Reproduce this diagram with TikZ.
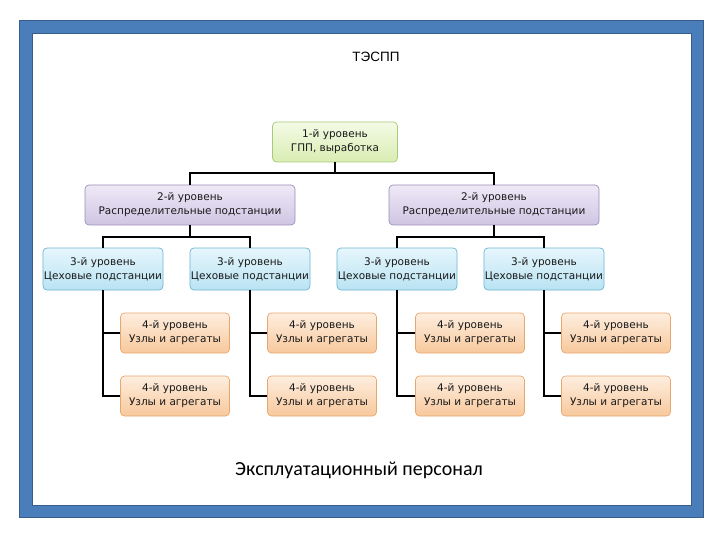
\documentclass[tikz,border=0pt]{standalone}
\usepackage{fontspec}
\setmainfont{DejaVu Sans}
\newfontfamily\capfont{Carlito}
\newfontfamily\ttlfont{Liberation Sans}

\definecolor{frameblue}{HTML}{4A7EBB}
\definecolor{framedark}{HTML}{385D8A}
\definecolor{greentop}{HTML}{F4FAE6}
\definecolor{greenbot}{HTML}{D9EDB2}
\definecolor{greenline}{HTML}{A9C97A}
\definecolor{lilactop}{HTML}{EEE9F6}
\definecolor{lilacbot}{HTML}{CFC5E4}
\definecolor{lilacline}{HTML}{9C8DBA}
\definecolor{bluetop}{HTML}{E6F6FC}
\definecolor{bluebot}{HTML}{B9E3F3}
\definecolor{blueline}{HTML}{6FB7D2}
\definecolor{peachtop}{HTML}{FDEEDF}
\definecolor{peachbot}{HTML}{F8C89C}
\definecolor{peachline}{HTML}{E9A770}

\begin{document}
\begin{tikzpicture}[x=1pt,y=-1pt,
  box/.style={rounded corners=4pt, line width=0.7pt, align=center,
    inner sep=1pt, text=black!90, font=\fontsize{10.5}{14}\selectfont},
  lvlone/.style={box, draw=greenline, top color=greentop, bottom color=greenbot,
    minimum width=125pt, minimum height=40pt},
  lvltwo/.style={box, draw=lilacline, top color=lilactop, bottom color=lilacbot,
    minimum width=210pt, minimum height=40pt},
  lvlthree/.style={box, draw=blueline, top color=bluetop, bottom color=bluebot,
    minimum width=120pt, minimum height=42pt},
  lvlfour/.style={box, draw=peachline, top color=peachtop, bottom color=peachbot,
    minimum width=109pt, minimum height=40pt},
  link/.style={draw=black, line width=1.8pt}]
\useasboundingbox (0,0) rectangle (720,540);

% frame
\fill[frameblue] (19,20) rectangle (703,517);
\fill[white] (32,33) rectangle (691,505);
\draw[framedark, line width=0.8pt] (19,20) rectangle (703,517);
\draw[framedark, line width=0.8pt] (32,33) rectangle (691,505);

\node[font=\ttlfont\fontsize{13.5}{15}\selectfont] (title) at (376,57) {ТЭСПП};

% levels
\node[lvlone] (l1) at (335,142) {1-й уровень\\ГПП, выработка};

\node[lvltwo] (l2a) at (190,205) {2-й уровень\\Распределительные подстанции};
\node[lvltwo] (l2b) at (494,205) {2-й уровень\\Распределительные подстанции};

\node[lvlthree] (l3a) at (103,269) {3-й уровень\\Цеховые подстанции};
\node[lvlthree] (l3b) at (250,269) {3-й уровень\\Цеховые подстанции};
\node[lvlthree] (l3c) at (397,269) {3-й уровень\\Цеховые подстанции};
\node[lvlthree] (l3d) at (544,269) {3-й уровень\\Цеховые подстанции};

\foreach \col/\x in {a/175,b/322,c/470,d/616}{
  \node[lvlfour] (l4\col1) at (\x,333) {4-й уровень\\Узлы и агрегаты};
  \node[lvlfour] (l4\col2) at (\x,396) {4-й уровень\\Узлы и агрегаты};
}

\node[font=\capfont\fontsize{20}{23}\selectfont] (staff) at (359,470) {Эксплуатационный персонал};

% connectors
\draw[link] (l1.south) -- ++(0,11) coordinate (j1);
\draw[link] (j1) -| (l2a.north);
\draw[link] (j1) -| (l2b.north);

\draw[link] (l2a.south) -- ++(0,12) coordinate (j2a);
\draw[link] (j2a) -| (l3a.north);
\draw[link] (j2a) -| (l3b.north);
\draw[link] (l2b.south) -- ++(0,12) coordinate (j2b);
\draw[link] (j2b) -| (l3c.north);
\draw[link] (j2b) -| (l3d.north);

\foreach \col in {a,b,c,d}{
  \draw[link] (l3\col.south) |- (l4\col2.west);
  \draw[link] (l3\col.south |- l4\col1.west) -- (l4\col1.west);
}
\end{tikzpicture}
\end{document}
